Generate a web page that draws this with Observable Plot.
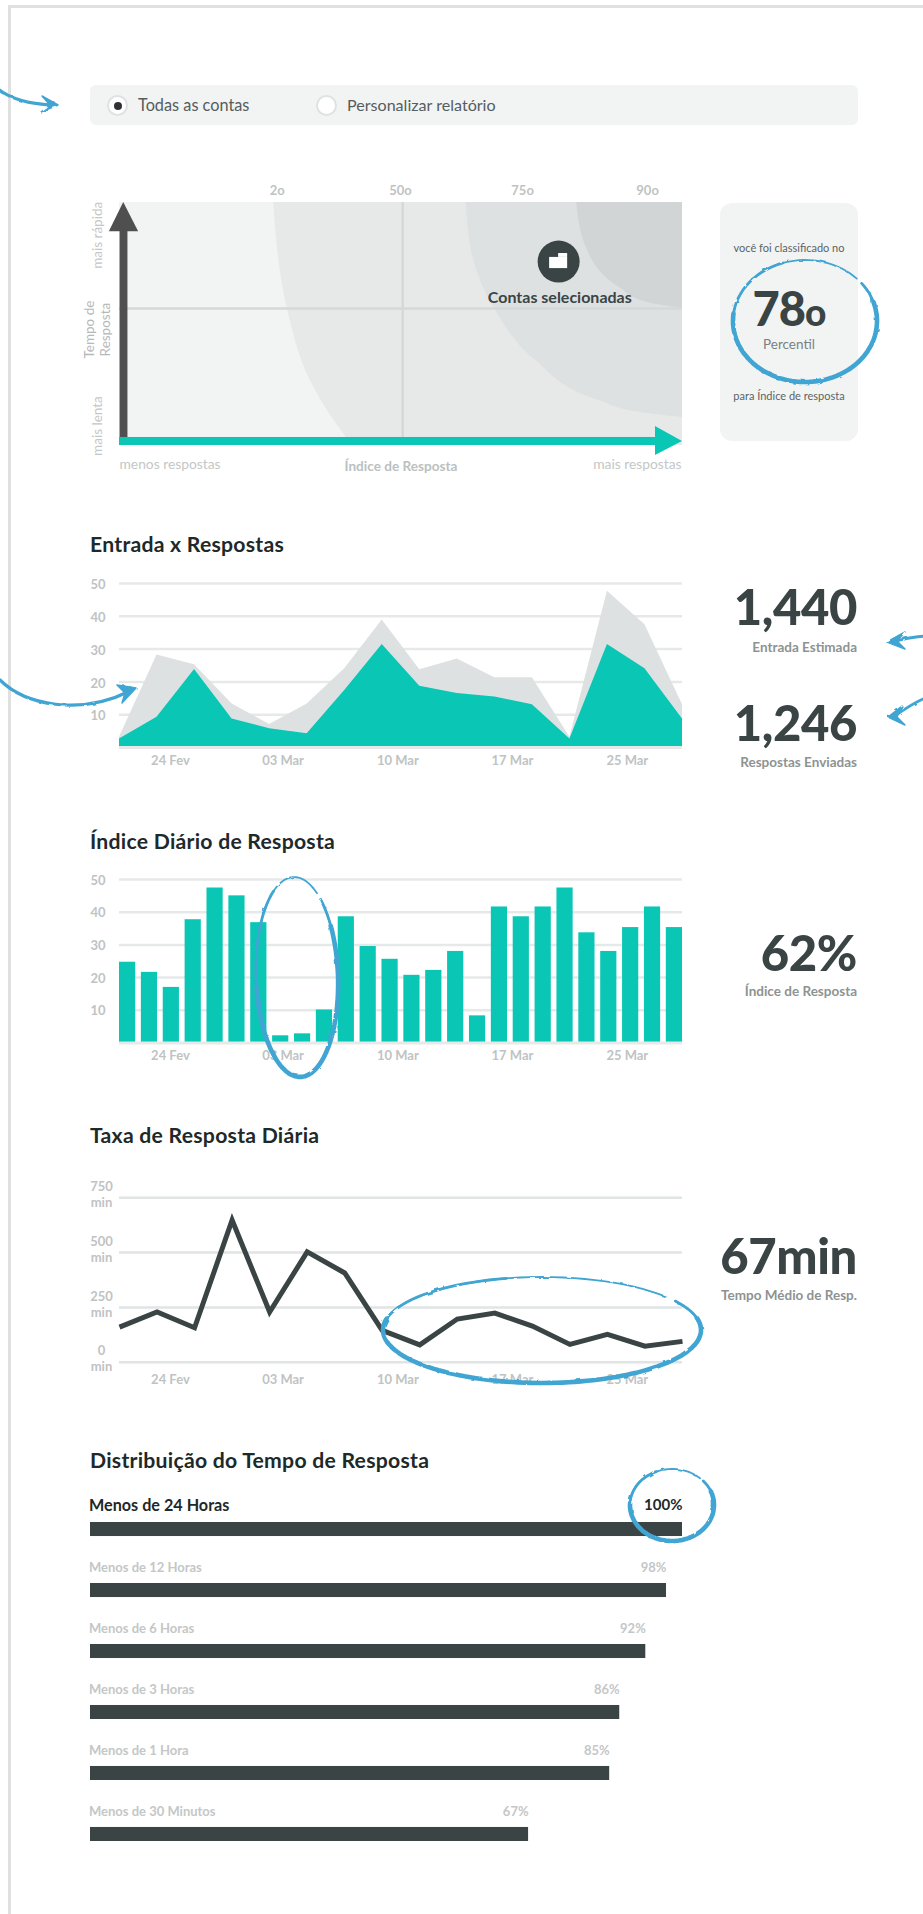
<!DOCTYPE html>
<html lang="pt">
<head>
<meta charset="utf-8">
<script src="https://cdn.jsdelivr.net/npm/d3@7"></script>
<script src="https://cdn.jsdelivr.net/npm/@observablehq/plot@0.6"></script>
<style>
  html,body{margin:0;padding:0;background:#fff;}
  #page{position:relative;width:923px;height:1914px;overflow:hidden;font-family:Lato,"Open Sans",sans-serif;background:#fff;}
  #page>svg,.plot{position:absolute;left:0;}
  .t{position:absolute;white-space:nowrap;line-height:1;}
  .title{left:90px;font-size:21.2px;font-weight:700;color:#1e2929;letter-spacing:.25px;}
  .kpi{right:66px;font-size:49px;font-weight:900;color:#3a4444;letter-spacing:-.4px;}
  .sub{right:66px;font-size:13.5px;font-weight:700;color:#8d9393;}
  .panel{position:absolute;background:#f2f4f4;}
  .radio{position:absolute;width:17px;height:17px;border-radius:50%;background:#fff;border:2px solid #dfe2e2;}
  .radio i{position:absolute;left:4.5px;top:4.5px;width:8px;height:8px;border-radius:50%;background:#2b3333;}
</style>
</head>
<body>
<div id="page"></div>
<script>
// ---------- data ----------
const dateLabels = ["24 Fev", "03 Mar", "10 Mar", "17 Mar", "25 Mar"];
const dateTickFractions = [0.0905, 0.2905, 0.4945, 0.698, 0.902];

const entrada   = [3.1, 28.2, 25.2, 13.3, 7, 13.3, 24, 38.9, 23.7, 27, 21.3, 21.3, 3.1, 47.6, 37.4, 13];
const respostas = [2.6, 9.2, 23.8, 8.7, 5.7, 4.2, 17.4, 31.4, 18.7, 16.5, 15.4, 13, 2.6, 31.4, 24, 8.7];

const indiceDiario = [24.7, 21.6, 17, 37.7, 47.4, 45, 36.8, 2.2, 2.8, 10.1, 38.6, 29.5, 25.6,
                      20.7, 22.2, 28, 8.3, 41.6, 38.6, 41.6, 47.4, 33.7, 28, 35.3, 41.6, 35.3];

const taxaDiaria = [160, 229, 157, 648, 229, 503, 407, 145, 79, 197, 224, 165, 81, 127, 73, 95];

const distLabels  = ["Menos de 24 Horas", "Menos de 12 Horas", "Menos de 6 Horas", "Menos de 3 Horas", "Menos de 1 Hora", "Menos de 30 Minutos"];
const distText    = ["100%", "98%", "92%", "86%", "85%", "67%"];
const distLengths = [100, 97.3, 93.8, 89.4, 87.7, 74];

// percentile regions of the quadrant chart: [index, time] boundary points
const band20 = [[27.4,100],[27.9,84.4],[29.8,56.4],[33.9,26.7],[37.5,12.3],[41.4,0]];
const band75 = [[61.6,100],[62.5,80.2],[66.6,56.4],[73.9,35],[85.1,18.5],[92.5,13.6],[100,11.5]];
const band90 = [[81.2,100],[82.9,81.5],[88.8,65],[93.8,58.8],[100,56.4]];
const percentileTicks = [28, 49.9, 71.6, 93.8];
const percentileLabels = ["2o", "50o", "75o", "90o"];

// ---------- palette ----------
const TEAL = "#09c6b5", DARK = "#3a4444", GRID = "#e7e9e9", TICK = "#bfc3c3", AREA = "#dee1e2", SKETCH = "#41a5d3";
const FONT = 'Lato,"Open Sans",sans-serif';
const page = document.getElementById("page");

function addPlot(top, opts){
  const el = Plot.plot({
    width: 923,
    marginLeft: 119, marginRight: 241,
    style: {fontFamily: FONT, background: "transparent", overflow: "visible"},
    ...opts
  });
  el.classList.add("plot");
  el.style.position = "absolute";
  el.style.top = top + "px";
  el.style.left = "0";
  page.appendChild(el);
  return el;
}
function txt(cls, css, s){
  const d = document.createElement("div");
  d.className = "t " + cls;
  Object.assign(d.style, css);
  d.textContent = s;
  page.appendChild(d);
  return d;
}
function panel(l, t, w, h, r){
  const d = document.createElement("div");
  d.className = "panel";
  Object.assign(d.style, {left:l+"px", top:t+"px", width:w+"px", height:h+"px", borderRadius:r+"px"});
  page.appendChild(d);
}
function radio(l, t, on){
  const d = document.createElement("div");
  d.className = "radio";
  d.style.left = l+"px"; d.style.top = t+"px";
  if (on) d.appendChild(document.createElement("i"));
  page.appendChild(d);
}

// ---------- page frame & selector ----------
const fr = document.createElement("div");
Object.assign(fr.style,{position:"absolute",left:"8px",top:"5px",width:"930px",height:"1920px",border:"3px solid #e0e0e0",boxSizing:"border-box"});
page.appendChild(fr);

panel(90, 85, 768, 40, 6);
radio(107, 95, true);
radio(316, 95, false);
txt("", {left:"138px", top:"97px", fontSize:"16.3px", color:"#555d5d"}, "Todas as contas");
txt("", {left:"347px", top:"97px", fontSize:"16.1px", color:"#555d5d"}, "Personalizar relatório");

// ---------- quadrant chart ----------
panel(720, 203, 138, 238, 12);
const quadTextColor = "#c4c7c7";
const rowsOf = a => a.map(([x,y]) => ({x,y}));
addPlot(170, {
  height: 300, marginTop: 32, marginBottom: 25,
  x: {domain:[0,100], axis:null},
  y: {domain:[0,100], axis:null},
  marks: [
    Plot.rect([{}], {x1:0, x2:100, y1:0, y2:100, fill:"#f2f4f4"}),
    Plot.areaX(rowsOf(band20), {x1:"x", x2:100, y:"y", fill:"#e7e9e9", curve:"monotone-y"}),
    Plot.areaX(rowsOf(band75), {x1:"x", x2:100, y:"y", fill:"#dee1e2", curve:"monotone-y"}),
    Plot.areaX(rowsOf(band90), {x1:"x", x2:100, y:"y", fill:"#d2d5d6", curve:"monotone-y"}),
    Plot.ruleX([50.3], {stroke:"#d5d8d8", strokeWidth:2.4}),
    Plot.ruleY([56.4], {stroke:"#d5d8d8", strokeWidth:2.6}),
    // vertical axis arrow
    Plot.rect([{}], {x1:0.1, x2:1.5, y1:3, y2:89, fill:"#4f4f4f"}),
    Plot.areaX([{y:100,a:0.75,b:0.75},{y:88,a:-1.8,b:3.4}], {x1:"a", x2:"b", y:"y", fill:"#4f4f4f"}),
    // horizontal axis arrow
    Plot.rect([{}], {x1:0, x2:95.2, y1:0, y2:3.3, fill:TEAL}),
    Plot.areaY([{x:95.2,a:-4.1,b:7.8},{x:100,a:1.65,b:1.65}], {x:"x", y1:"a", y2:"b", fill:TEAL}),
    // selected accounts marker
    Plot.dot([{x:78,y:75.7}], {x:"x", y:"y", r:21, fill:DARK}),
    Plot.rect([{}], {x1:76.4, x2:79.6, y1:72.8, y2:77.4, fill:"#fff"}),
    Plot.rect([{}], {x1:78, x2:79.6, y1:77.4, y2:79, fill:"#fff"}),
    Plot.text(["Contas selecionadas"], {x:78.2, y:60.9, text:d=>d, fontSize:16, fontWeight:700, fill:DARK}),
    // top percentile ticks
    Plot.axisX({anchor:"top", ticks:percentileTicks, tickFormat:(d,i)=>percentileLabels[i], tickSize:0, tickPadding:8, label:null, fontSize:13, fontWeight:700, color:TICK}),
    // rotated labels
    Plot.text(["mais rápida"], {x:0, dx:-22, y:86.5, text:d=>d, rotate:-90, fontSize:13.5, fill:quadTextColor}),
    Plot.text(["Tempo de\nResposta"], {x:0, dx:-23, y:47.7, text:d=>d, rotate:-90, fontSize:13.5, lineHeight:1.2, fill:"#b5b8b8"}),
    Plot.text(["mais lenta"], {x:0, dx:-22, y:8, text:d=>d, rotate:-90, fontSize:13.5, fill:quadTextColor}),
    // bottom labels
    Plot.text(["menos respostas"], {x:0, y:0, dy:19, text:d=>d, textAnchor:"start", fontSize:13.8, fill:quadTextColor}),
    Plot.text(["Índice de Resposta"], {x:50, y:0, dy:21, text:d=>d, fontSize:13.6, fontWeight:700, fill:"#bcbfbf"}),
    Plot.text(["mais respostas"], {x:100, dx:-1, y:0, dy:19, text:d=>d, textAnchor:"end", fontSize:13.8, fill:quadTextColor})
  ]
});
txt("", {left:"720px", width:"138px", textAlign:"center", top:"242px", fontSize:"11px", color:"#5b6363"}, "você foi classificado no");
txt("", {left:"720px", width:"138px", textAlign:"center", top:"285px", fontSize:"47px", fontWeight:"900", color:DARK, letterSpacing:"-1px"}, "78")
  .insertAdjacentHTML("beforeend", '<span style="font-size:37px">o</span>');
txt("", {left:"720px", width:"138px", textAlign:"center", top:"338px", fontSize:"13.5px", color:"#7a8181"}, "Percentil");
txt("", {left:"720px", width:"138px", textAlign:"center", top:"390px", fontSize:"11px", color:"#5b6363"}, "para Índice de resposta");

// ---------- Entrada x Respostas ----------
txt("title", {top:"534px"}, "Entrada x Respostas");
const dateAxis = (max, pad) => Plot.axisX({
  ticks: dateTickFractions.map(f => f*max),
  tickFormat: (d,i) => dateLabels[i],
  tickSize:0, tickPadding:pad, label:null, fontSize:13, fontWeight:700, color:TICK
});
const yAxis10 = dy => Plot.axisY({ticks:[10,20,30,40,50], tickSize:0, tickPadding:14, label:null, fontSize:13, fontWeight:700, color:TICK, dy});
addPlot(560, {
  height: 230, marginTop: 23, marginBottom: 43,
  x: {domain:[0,15]},
  y: {domain:[0,50]},
  marks: [
    Plot.ruleY([10,20,30,40,50], {stroke:GRID, strokeWidth:2.5}),
    Plot.areaY(entrada, {x:(d,i)=>i, y:d=>d, fill:AREA}),
    Plot.areaY(respostas, {x:(d,i)=>i, y:d=>d, fill:TEAL}),
    Plot.ruleY([0], {stroke:GRID, strokeWidth:3}),
    yAxis10(1.5),
    dateAxis(15, 8)
  ]
});
txt("kpi", {top:"582px"}, "1,440");
txt("sub", {top:"641px"}, "Entrada Estimada");
txt("kpi", {top:"698px"}, "1,246");
txt("sub", {top:"756px"}, "Respostas Enviadas");

// ---------- Índice Diário ----------
txt("title", {top:"831px"}, "Índice Diário de Resposta");
const barMax = indiceDiario.length - 0.26;
addPlot(860, {
  height: 230, marginTop: 19, marginBottom: 47.5,
  x: {domain:[0,barMax]},
  y: {domain:[0,50]},
  marks: [
    Plot.ruleY([10,20,30,40,50], {stroke:GRID, strokeWidth:2.5}),
    Plot.rectY(indiceDiario, {x1:(d,i)=>i, x2:(d,i)=>i+0.74, y1:0, y2:d=>d, fill:TEAL}),
    Plot.ruleY([0], {stroke:GRID, strokeWidth:3}),
    yAxis10(1),
    dateAxis(barMax, 8)
  ]
});
txt("kpi", {top:"928px"}, "62%");
txt("sub", {top:"985px"}, "Índice de Resposta");

// ---------- Taxa de Resposta ----------
txt("title", {top:"1125px"}, "Taxa de Resposta Diária");
addPlot(1170, {
  height: 230, marginTop: 27.3, marginBottom: 38.3,
  x: {domain:[0,15]},
  y: {domain:[0,750]},
  marks: [
    Plot.ruleY([0,250,500,750], {stroke:"#e1e4e4", strokeWidth:2.5}),
    Plot.lineY(taxaDiaria, {x:(d,i)=>i, y:d=>d, stroke:DARK, strokeWidth:5, strokeLinejoin:"miter", strokeLinecap:"butt", strokeMiterlimit:10}),
    Plot.axisY({ticks:[0,250,500,750], tickFormat:d=>d+"\nmin", tickSize:0, tickPadding:7, label:null, fontSize:13, fontWeight:700, color:TICK, lineHeight:1.23, textAnchor:"middle", dx:-11, dy:-4}),
    dateAxis(15, 13)
  ]
});
txt("kpi", {top:"1231px"}, "67min");
txt("sub", {top:"1289px"}, "Tempo Médio de Resp.");

// ---------- Distribuição ----------
txt("title", {top:"1450px"}, "Distribuição do Tempo de Resposta");
const distRows = distLabels.map((label,i)=>({label, text:distText[i], len:distLengths[i], first:i===0}));
addPlot(1500, {
  height: 360, marginLeft: 90, marginTop: 22, marginBottom: 19,
  x: {domain:[0,100], axis:null},
  y: {type:"band", domain:distLabels, paddingInner:0.77, paddingOuter:0, round:false, axis:null},
  marks: [
    Plot.barX(distRows, {x1:0, x2:"len", y:"label", fill:DARK}),
    Plot.text(distRows.filter(d=>!d.first), {x:0, dx:-1.5, y:"label", dy:-22.5, text:"label", textAnchor:"start", fontSize:13, fontWeight:700, fill:"#c4c7c7"}),
    Plot.text(distRows.filter(d=>!d.first), {x:"len", y:"label", dy:-22.5, text:"text", textAnchor:"end", fontSize:13, fontWeight:700, fill:"#c4c7c7"}),
    Plot.text(distRows.filter(d=>d.first), {x:0, dx:-1.5, y:"label", dy:-24, text:"label", textAnchor:"start", fontSize:16.2, fontWeight:700, fill:"#1e2929"}),
    Plot.text(distRows.filter(d=>d.first), {x:"len", y:"label", dy:-24, text:"text", textAnchor:"end", fontSize:15, fontWeight:700, fill:"#1e2929"})
  ]
});

// ---------- hand-drawn annotations ----------
function arc(cx,cy,rx,ry,rot,a0,a1){
  const r = rot*Math.PI/180, pts=[];
  const step = (a1-a0)/90;
  for(let k=0;k<=90;k++){
    const t=(a0+step*k)*Math.PI/180, x=rx*Math.cos(t), y=ry*Math.sin(t);
    pts.push((cx+x*Math.cos(r)-y*Math.sin(r)).toFixed(1)+","+(cy+x*Math.sin(r)+y*Math.cos(r)).toFixed(1));
  }
  return "M"+pts.join("L");
}
const sketches = [
  {cx:805, cy:321, rx:72, ry:61, rot:0,  gap:-38},
  {cx:297, cy:977, rx:41, ry:100, rot:-2, gap:-50},
  {cx:542, cy:1330, rx:159, ry:53, rot:0, gap:-33},
  {cx:672, cy:1505, rx:42, ry:36, rot:0, gap:-42}
];
const NS = "http://www.w3.org/2000/svg";
const ov = document.createElementNS(NS,"svg");
ov.setAttribute("width",923); ov.setAttribute("height",1914);
ov.style.top="0"; ov.style.pointerEvents="none";
let inner = `<defs><filter id="rough" x="-5%" y="-5%" width="110%" height="110%">
<feTurbulence type="fractalNoise" baseFrequency="0.12" numOctaves="2" seed="4" result="n"/>
<feDisplacementMap in="SourceGraphic" in2="n" scale="2.6"/></filter></defs><g filter="url(#rough)" fill="none" stroke="${SKETCH}" stroke-linecap="round" stroke-linejoin="round">`;
for(const s of sketches){
  inner += `<path stroke-width="1.8" d="${arc(s.cx,s.cy,s.rx,s.ry,s.rot,s.gap,s.gap+354)}"/>`;
  inner += `<path stroke-width="2.8" d="${arc(s.cx,s.cy,s.rx,s.ry,s.rot,s.gap,s.gap+290)}"/>`;
  inner += `<path stroke-width="4.6" d="${arc(s.cx,s.cy,s.rx,s.ry,s.rot,s.gap+20,s.gap+225)}"/>`;
}
// arrow tails
inner += `<path stroke-width="3.2" d="M-2,89 C12,100 30,104 52,105"/>`;
inner += `<path stroke-width="3.2" d="M0,680 C25,705 80,716 130,691"/>`;
inner += `<path stroke-width="2.8" d="M925,636 C912,637 902,639 894,642"/>`;
inner += `<path stroke-width="2.8" d="M925,698 C912,704 903,710 895,716"/>`;
inner += `</g><g filter="url(#rough)" fill="${SKETCH}" stroke="${SKETCH}" stroke-width="1.5" stroke-linejoin="round">`;
// arrow heads
inner += `<path d="M42,96 L58,105 L41,112 L50,105Z"/>`;
inner += `<path d="M136,688 L117,685 L125,693 L122,703Z"/>`;
inner += `<path d="M887,642 L905,632 L897,641 L905,649Z"/>`;
inner += `<path d="M888,717 L902,706 L897,717 L905,725Z"/>`;
inner += `</g>`;
ov.innerHTML = inner;
page.appendChild(ov);
</script>
</body>
</html>
